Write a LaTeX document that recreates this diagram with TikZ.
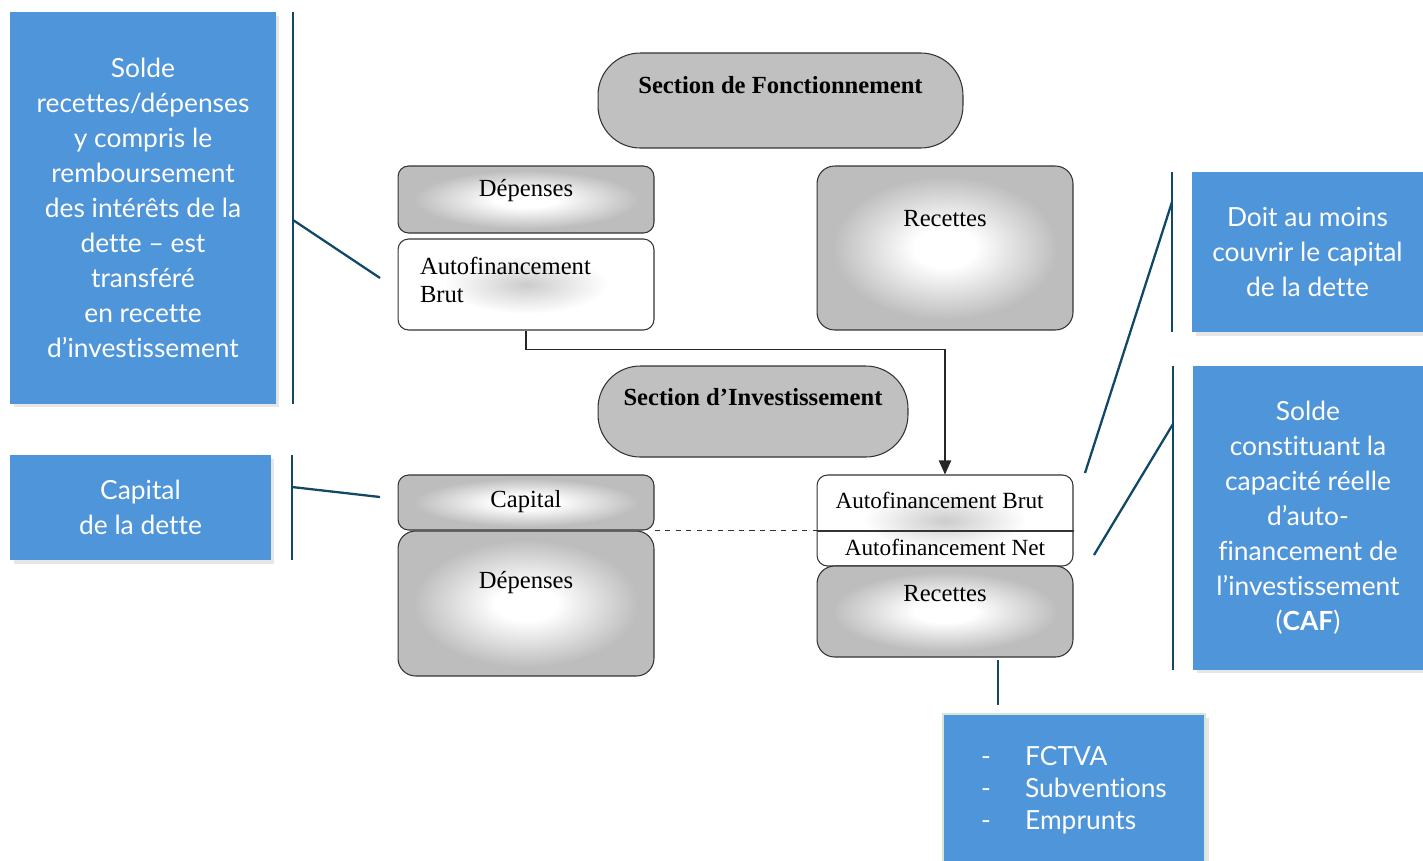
\documentclass[tikz,border=0pt]{standalone}
\usepackage{fontspec}
\setmainfont{Lato}[Ligatures=NoCommon]
\newfontfamily\timesf{Liberation Serif}
\usetikzlibrary{arrows.meta,shadows}
\definecolor{noteblue}{RGB}{79,149,217}
\definecolor{linkblue}{RGB}{16,72,102}
\definecolor{secgray}{RGB}{192,192,192}
\definecolor{edgegreen}{RGB}{213,232,212}
\pgfdeclareradialshading{glow}{\pgfpoint{0bp}{0bp}}{rgb(0bp)=(1,1,1); rgb(6bp)=(1,1,1); rgb(22bp)=(0.74,0.74,0.74); rgb(50bp)=(0.74,0.74,0.74)}
\pgfdeclareradialshading{smudge}{\pgfpoint{0bp}{0bp}}{rgb(0bp)=(0.8,0.8,0.8); rgb(16bp)=(1,1,1); rgb(50bp)=(1,1,1)}
\begin{document}
\begin{tikzpicture}[x=0.02cm, y=-0.02cm,
        sect/.style={draw=black!80, line width=0.6pt, fill=secgray, rounded corners=24pt, inner sep=0pt},
        gbox/.style={draw=black!80, line width=0.6pt, shade, shading=glow, rounded corners=6pt, inner sep=0pt},
        wbox/.style={draw=black!80, line width=0.6pt, shade, shading=smudge, rounded corners=6pt, inner sep=0pt},
        note/.style={fill=noteblue, text=white, align=center, inner sep=0pt,
            drop shadow={opacity=0.2, shadow xshift=2pt, shadow yshift=-2pt},
            font=\fontsize{15}{19.9}\selectfont},
        tm/.style={font=\timesf\fontsize{14}{15.4}\selectfont, inner sep=0pt},
        tmb/.style={font=\timesf\bfseries\fontsize{14}{16}\selectfont, inner sep=0pt},
        link/.style={draw=linkblue, line width=1.3pt}]
\useasboundingbox (0,0) rectangle (1423,860);

% fonctionnement
\node[sect, minimum width=7.3cm, minimum height=1.9cm,
    label={[tmb, yshift=8.8pt]center:Section de Fonctionnement}] (secF) at (780.5,100.5) {};
\node[gbox, minimum width=5.12cm, minimum height=1.34cm,
    label={[tm, yshift=5pt]center:Dépenses}] (depF) at (526,199.5) {};
\node[wbox, minimum width=5.12cm, minimum height=1.82cm,
    label={[tm, align=left, xshift=-11.7pt, yshift=2.6pt]center:Autofinancement\\Brut}] (afB) at (526,284.5) {};
\node[gbox, rounded corners=10pt, minimum width=5.12cm, minimum height=3.28cm,
    label={[tm, yshift=16.5pt]center:Recettes}] (recF) at (945,248) {};

% investissement
\node[sect, minimum width=6.2cm, minimum height=1.82cm,
    label={[tmb, yshift=8.3pt]center:Section d’Investissement}] (secI) at (753,411.5) {};
\node[gbox, minimum width=5.12cm, minimum height=1.1cm,
    label={[tm, yshift=0.8pt]center:Capital}] (capI) at (526,502.5) {};
\node[gbox, rounded corners=10pt, minimum width=5.12cm, minimum height=2.9cm,
    label={[tm, yshift=11.7pt]center:Dépenses}] (depI) at (526,603.5) {};
\node[wbox, minimum width=5.12cm, minimum height=1.82cm,
    label={[tm, font=\timesf\fontsize{13.2}{15}\selectfont, xshift=-3.1pt, yshift=11.7pt]center:Autofinancement Brut},
    label={[tm, font=\timesf\fontsize{13.2}{15}\selectfont, yshift=-15.6pt]center:Autofinancement Net}] (afBN) at (945,520.5) {};
\node[gbox, rounded corners=10pt, minimum width=5.12cm, minimum height=1.82cm,
    label={[tm, yshift=10.5pt]center:Recettes}] (recI) at (945,611.5) {};

\draw[black!80, line width=0.6pt] (afBN.west |- 0,531) -- (afBN.east |- 0,531);
\draw[black!80, line width=0.6pt, dashed] (capI.south east) -- (afBN.west |- capI.south east);
\draw[black!85, line width=0.7pt, -{Triangle[length=8pt,width=7pt]}] (afB.south) -- ++(0,19) -| (afBN.north);

% notes
\node[note, minimum width=5.32cm, minimum height=7.84cm] (nSolde) at (143,208)
    {Solde\\recettes/dépenses\\y compris le\\remboursement\\des intérêts de la\\dette – est\\transféré\\en recette\\d’investissement};
\node[note, minimum width=5.22cm, minimum height=2.1cm] (nCap) at (140.5,507.5)
    {Capital\\de la dette};
\node[note, minimum width=4.62cm, minimum height=3.2cm] (nCouv) at (1307.5,252)
    {Doit au moins\\couvrir le capital\\de la dette};
\node[note, minimum width=4.6cm, minimum height=6.08cm] (nCaf) at (1308,518)
    {Solde\\constituant la\\capacité réelle\\d’auto-\\financement de\\l’investissement\\(\textbf{CAF})};
\node[note, draw=edgegreen, line width=1.5pt, align=left, minimum width=5.24cm, minimum height=3.04cm,
    font=\fontsize{15}{18.2}\selectfont] (nList) at (1074,790)
    {\makebox[25pt][l]{-}FCTVA\\\makebox[25pt][l]{-}Subventions\\\makebox[25pt][l]{-}Emprunts};

% callout lines
\coordinate (b1) at (293,220);
\coordinate (t1) at (380,278);
\draw[link] (b1 |- nSolde.north) -- (b1 |- nSolde.south);
\draw[link] (b1) -- (t1);

\coordinate (b2) at (292,487);
\coordinate (t2) at (380,497);
\draw[link] (b2 |- nCap.north) -- (b2 |- nCap.south);
\draw[link] (b2) -- (t2);

\coordinate (b3) at (1172,202);
\coordinate (t3) at (1085,473);
\draw[link] (b3 |- nCouv.north) -- (b3 |- nCouv.south);
\draw[link] (b3) -- (t3);

\coordinate (b4) at (1173,424);
\coordinate (t4) at (1094,555);
\draw[link] (b4 |- nCaf.north) -- (b4 |- nCaf.south);
\draw[link] (b4) -- (t4);

\coordinate (b5) at (998,660);
\draw[link, shorten >=4.5pt] (b5) -- (b5 |- nList.north);

\end{tikzpicture}
\end{document}
